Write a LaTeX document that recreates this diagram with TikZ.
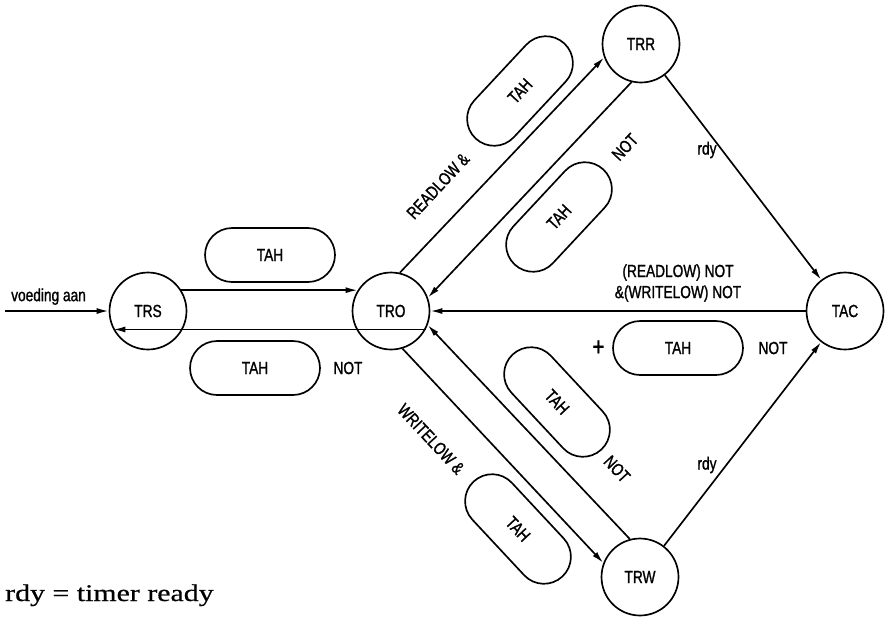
\documentclass[tikz,border=0pt]{standalone}
\usepackage{fontspec}
\setsansfont[FakeStretch=0.78, FakeBold=1.2]{Liberation Sans}
\newfontfamily\notefont[FakeStretch=1.25, FakeBold=0.6]{Liberation Serif}
\usetikzlibrary{positioning, shapes.misc, arrows.meta}

\tikzset{
  state/.style={circle, draw, line width=0.95pt, minimum size=1.54cm, inner sep=0pt},
  cond/.style={rounded rectangle, draw, line width=0.95pt, minimum width=2.6cm,
               minimum height=1.08cm, inner sep=0pt},
  trans/.style={line width=0.95pt, -{Latex[length=2.4mm, width=1.2mm]}},
}

\begin{document}
\begin{tikzpicture}[x=0.02cm, y=-0.02cm, font=\sffamily\fontsize{10}{12}\selectfont]
\useasboundingbox (0,0) rectangle (885,616);

% states
\node [state] (TRS) at (148,311) {TRS};
\node [state] (TRO) at (391,311) {TRO};
\node [state] (TRR) at (641,44)  {TRR};
\node [state] (TAC) at (845,311) {TAC};
\node [state] (TRW) at (640,577) {TRW};

% power on
\coordinate (on) at (5,311);
\draw [trans] (on) -- (TRS);
\node [above right=0mm and 0mm of on] (von) {voeding aan};

% TRS <-> TRO
\draw [trans] (TRS.32) -- (TRO.148);
\draw [trans] (TRO.-28) -- (TRS.208);
\node [cond] (tah1) at (270,255) {TAH};
\node [cond] (tah2) at (255,368) {TAH};
\node [right=1.3mm of tah2] (not2) {NOT};

% TRO <-> TRR
\draw [trans] (TRO.77) -- (TRR.200);
\draw [trans] (TRR.256) -- (TRO.20);
\node [cond, rotate=47] (tah3) at (520,91)  {TAH};
\node [cond, rotate=47] (tah4) at (559,217) {TAH};
\node [rotate=47] (rlow) at (438,186) {READLOW \&};
\node [rotate=47] (not4) at (625,147) {NOT};

% TRO <-> TRW
\draw [trans] (TRO.287) -- (TRW.159);
\draw [trans] (TRW.105) -- (TRO.339);
\node [cond, rotate=-47] (tah6) at (518,529) {TAH};
\node [cond, rotate=-47] (tah7) at (557,402) {TAH};
\node [rotate=-47] (wlow) at (431,439) {WRITELOW \&};
\node [rotate=-47] (not7) at (617,469) {NOT};

% timer ready
\draw [trans] (TRR) -- (TAC);
\draw [trans] (TRW) -- (TAC);
\node (rdy1) at (707,150) {rdy};
\node (rdy2) at (707,465) {rdy};

% TAC -> TRO
\draw [trans] (TAC) -- (TRO);
\node [align=center] (back) at (678,283) {(READLOW) NOT\\\&(WRITELOW) NOT};
\node [cond] (tah5) at (678,348) {TAH};
\node [left=0.3mm of tah5, font=\sffamily\fontsize{15}{15}\selectfont] (plus) {+};
\node [right=1.7mm of tah5] (not5) {NOT};

\node [anchor=base west, font=\notefont\fontsize{13.6}{16}\selectfont] (note) at (-1,601)
  {rdy = timer ready};
\end{tikzpicture}
\end{document}
